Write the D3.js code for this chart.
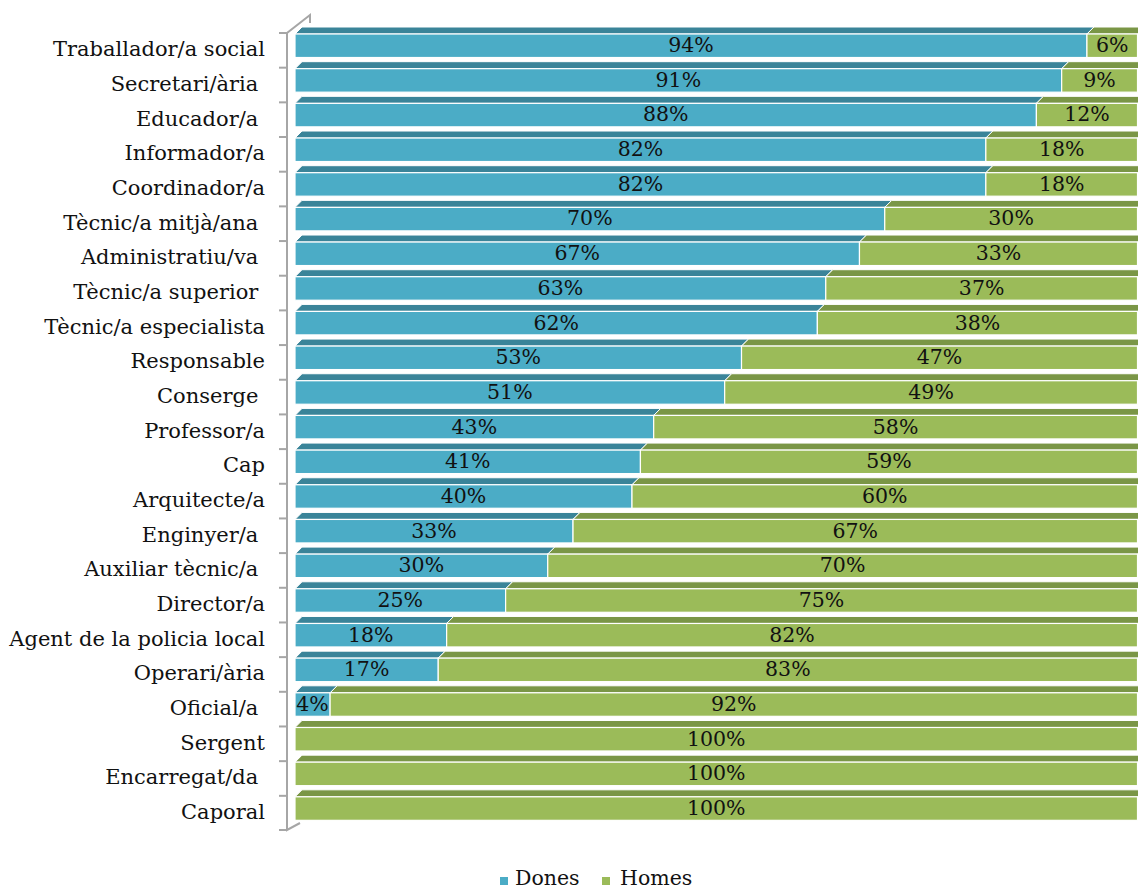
<!DOCTYPE html>
<html><head><meta charset="utf-8">
<script src="https://cdn.jsdelivr.net/npm/d3@7"></script>
<style>body{margin:0;background:#fff}svg{display:block}text{font-family:"DejaVu Serif",Georgia,serif;white-space:pre}</style>
</head><body><div id="chart"></div>
<script>
const categories = ["Traballador/a social","Secretari/ària ","Educador/a ","Informador/a","Coordinador/a","Tècnic/a mitjà/ana ","Administratiu/va ","Tècnic/a superior ","Tècnic/a especialista","Responsable","Conserge ","Professor/a","Cap","Arquitecte/a","Enginyer/a ","Auxiliar tècnic/a ","Director/a","Agent de la policia local","Operari/ària","Oficial/a ","Sergent","Encarregat/da ","Caporal"];
const dones = [94,91,88,82,82,70,67,63,62,53,51,43,41,40,33,30,25,18,17,4,0,0,0];
const homes = [6,9,12,18,18,30,33,37,38,47,49,58,59,60,67,70,75,82,83,92,100,100,100];
const seriesNames = ["Dones","Homes"];
const front = {Dones:"#4BACC6", Homes:"#9BBB59"};
const topc = {Dones:"#3A8499", Homes:"#7A9646"};

const W = 1138, H = 889, FS = 20.5;
const svg = d3.select("#chart").append("svg").attr("width", W).attr("height", H);
const rows = categories.map((c,i)=>({cat:c, Dones:dones[i], Homes:homes[i]}));
const stacked = d3.stack().keys(seriesNames).offset(d3.stackOffsetExpand)(rows);
const x = d3.scaleLinear().domain([0,1]).range([295,1137.5]);
const y = d3.scaleBand().domain(categories).range([33,830.5]);
const fh = 23.5, dx = 7, dy = 7;

// axis lines
const ax = svg.append("g").attr("stroke","#a6a6a6").attr("stroke-width",2).attr("fill","none");
ax.append("path").attr("d",`M310,23 L310,15 L287,33 L287,830 L300,823`);
categories.forEach(c=>{ ax.append("line").attr("x1",279).attr("x2",287).attr("y1",y(c)).attr("y2",y(c)); });
ax.append("line").attr("x1",279).attr("x2",287).attr("y1",830).attr("y2",830);

const g = svg.append("g");
stacked.forEach(s=>{
  s.forEach((d,i)=>{
    const x0 = x(d[0]), x1 = x(d[1]);
    if (x1 - x0 < 0.5) return;
    const yt = y(d.data.cat) + 1;
    g.append("path").attr("d",`M${x0},${yt} L${x0+dx},${yt-dy} L${x1+dx},${yt-dy} L${x1},${yt} Z`)
      .attr("fill", topc[s.key]).attr("stroke","#fff").attr("stroke-width",1);
    g.append("rect").attr("x",x0).attr("y",yt).attr("width",x1-x0).attr("height",fh)
      .attr("fill", front[s.key]).attr("stroke","#fff").attr("stroke-width",1.2);
  });
});
// labels
stacked.forEach(s=>{
  s.forEach((d,i)=>{
    const v = d.data[s.key];
    if (!v) return;
    const x0 = x(d[0]), x1 = x(d[1]);
    g.append("text").attr("x",(x0+x1)/2).attr("y",y(d.data.cat)+fh/2).attr("dy","0.36em")
      .attr("text-anchor","middle").attr("font-size",FS).attr("fill","#111").text(v+"%");
  });
});
// category labels
svg.append("g").selectAll("text").data(categories).join("text")
  .attr("x",265).attr("y",c=>y(c)+4+fh/2).attr("dy","0.36em").attr("text-anchor","end")
  .attr("font-size",21).attr("fill","#111").text(c=>c);
// legend
const lg = svg.append("g");
[["Dones",500,515],["Homes",602,620]].forEach(([k,sx,tx])=>{
  lg.append("rect").attr("x",sx).attr("y",877).attr("width",8).attr("height",8).attr("fill",front[k]);
  lg.append("text").attr("x",tx).attr("y",885).attr("font-size",FS).attr("fill","#111").text(k);
});
</script></body></html>
